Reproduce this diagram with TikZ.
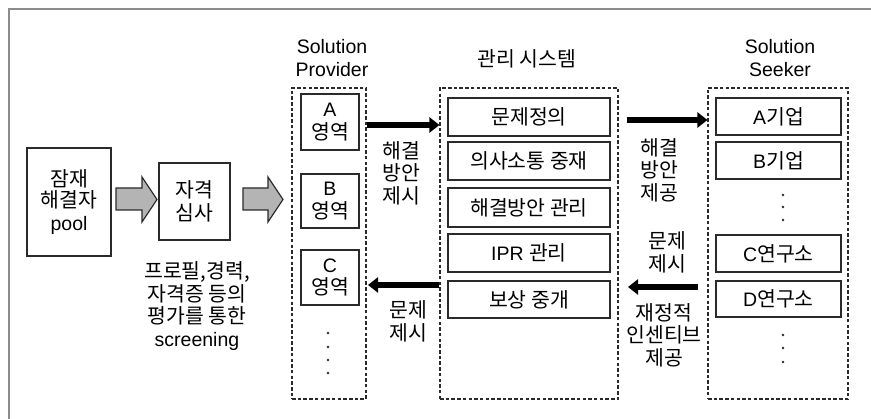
\documentclass[tikz,border=0pt]{standalone}
\usepackage{fontspec}
\setmainfont{Liberation Sans}
\newfontfamily\kr{Noto Sans CJK KR}[Scale=1.05]
\usetikzlibrary{arrows.meta}
\newcommand{\K}[1]{{\kr #1}}
\definecolor{ink}{HTML}{2A2A2A}
\definecolor{framegray}{HTML}{8C8C8C}
\definecolor{arrowgray}{HTML}{B4B4B4}
\tikzset{
  solidbox/.style={draw=ink, line width=1.3pt, rectangle, inner sep=0pt, align=center},
  groupbox/.style={draw=ink, line width=1.1pt, dash pattern=on 3.5pt off 2.2pt, rectangle, inner sep=0pt},
  lbl/.style={align=center, inner sep=0pt, font=\fontsize{19.5}{22.5}\selectfont},
  bigarrow/.style={draw=black, line width=5.5pt, -{Triangle[length=10pt,width=15pt]}},
  grayarrow/.style={draw=ink, line width=1.2pt, fill=arrowgray, line join=miter},
  dotmark/.style={fill=ink, draw=none, circle, inner sep=0pt, minimum size=2.6pt}
}
\begin{document}
\begin{tikzpicture}[x=1pt,y=-1pt, every node/.style={font=\fontsize{19.5}{22.5}\selectfont}]
\useasboundingbox (0,0) rectangle (871,419);
% outer frame
\draw[framegray, line width=1.6pt] (9,419) -- (9,9) -- (871,9);

% left part
\node[solidbox, minimum width=84pt, minimum height=108pt] (pool) at (69,202) {\K{잠재}\\[-1pt]\K{해결자}\\pool};
\node[solidbox, minimum width=71pt, minimum height=77pt] (screen) at (194.5,201.5) {\K{자격}\\\K{심사}};
\draw[grayarrow] (116,188) -- (142,188) -- (142,177) -- (157,199.5) -- (142,222) -- (142,210) -- (116,210) -- cycle;
\draw[grayarrow] (243,188) -- (268,188) -- (268,177) -- (283,199.5) -- (268,222) -- (268,210) -- (243,210) -- cycle;
\node[lbl] (scrtext) at (197,306) {\K{프로필,경력,}\\\K{자격증 등의}\\\K{평가를 통한}\\screening};

% Solution Provider
\node[lbl] (sptitle) at (332,58) {Solution\\Provider};
\node[groupbox, minimum width=74pt, minimum height=311pt] (sp) at (329,243.5) {};
\node[solidbox, minimum width=58pt, minimum height=56pt] (ba) at (330,122) {A\\\K{영역}};
\node[solidbox, minimum width=58pt, minimum height=54pt] (bb) at (330,201) {B\\\K{영역}};
\node[solidbox, minimum width=58pt, minimum height=55pt] (bc) at (330,277.5) {C\\\K{영역}};
\foreach \yy [count=\i] in {333,347,360,373} \node[dotmark] (spd\i) at (328,\yy) {};

% Management system
\node[lbl] (mstitle) at (527,59) {\K{관리 시스템}};
\node[groupbox, minimum width=178pt, minimum height=311pt] (ms) at (529,243.5) {};
\node[solidbox, minimum width=162pt, minimum height=38pt] (m1) at (529,117) {\K{문제정의}};
\node[solidbox, minimum width=162pt, minimum height=38pt] (m2) at (529,161) {\K{의사소통 중재}};
\node[solidbox, minimum width=162pt, minimum height=39pt] (m3) at (529,207.5) {\K{해결방안 관리}};
\node[solidbox, minimum width=162pt, minimum height=38pt] (m4) at (529,253) {IPR \K{관리}};
\node[solidbox, minimum width=162pt, minimum height=37pt] (m5) at (529,299.5) {\K{보상 중개}};

% Solution Seeker
\node[lbl] (sstitle) at (780,58) {Solution\\Seeker};
\node[groupbox, minimum width=140pt, minimum height=311pt] (ss) at (778,243.5) {};
\node[solidbox, minimum width=125pt, minimum height=37pt] (s1) at (778.5,116.5) {A\K{기업}};
\node[solidbox, minimum width=125pt, minimum height=37pt] (s2) at (778.5,160.5) {B\K{기업}};
\node[solidbox, minimum width=125pt, minimum height=37pt] (s3) at (778.5,253.5) {C\K{연구소}};
\node[solidbox, minimum width=125pt, minimum height=36pt] (s4) at (778.5,299) {D\K{연구소}};
\foreach \yy [count=\i] in {195,207,220} \node[dotmark] (ssa\i) at (783,\yy) {};
\foreach \yy [count=\i] in {335,348,362} \node[dotmark] (ssb\i) at (783,\yy) {};

% black arrows
\draw[bigarrow] (sp.east |- 0,125) -- (ms.west |- 0,125);
\draw[bigarrow] (ms.west |- 0,285) -- (368,285);
\coordinate (r1) at (627,120);
\coordinate (r2) at (698,287);
\draw[bigarrow] (r1) -- (r1 -| ss.west);
\draw[bigarrow] (r2) -- (628,287);

\node[lbl] (t1) at (401,173) {\K{해결}\\\K{방안}\\\K{제시}};
\node[lbl] (t2) at (408,321.5) {\K{문제}\\\K{제시}};
\node[lbl] (t3) at (659,170) {\K{해결}\\\K{방안}\\\K{제공}};
\node[lbl] (t4) at (667,252.5) {\K{문제}\\\K{제시}};
\node[lbl] (t5) at (664,335) {\K{재정적}\\\K{인센티브}\\\K{제공}};
\end{tikzpicture}
\end{document}
